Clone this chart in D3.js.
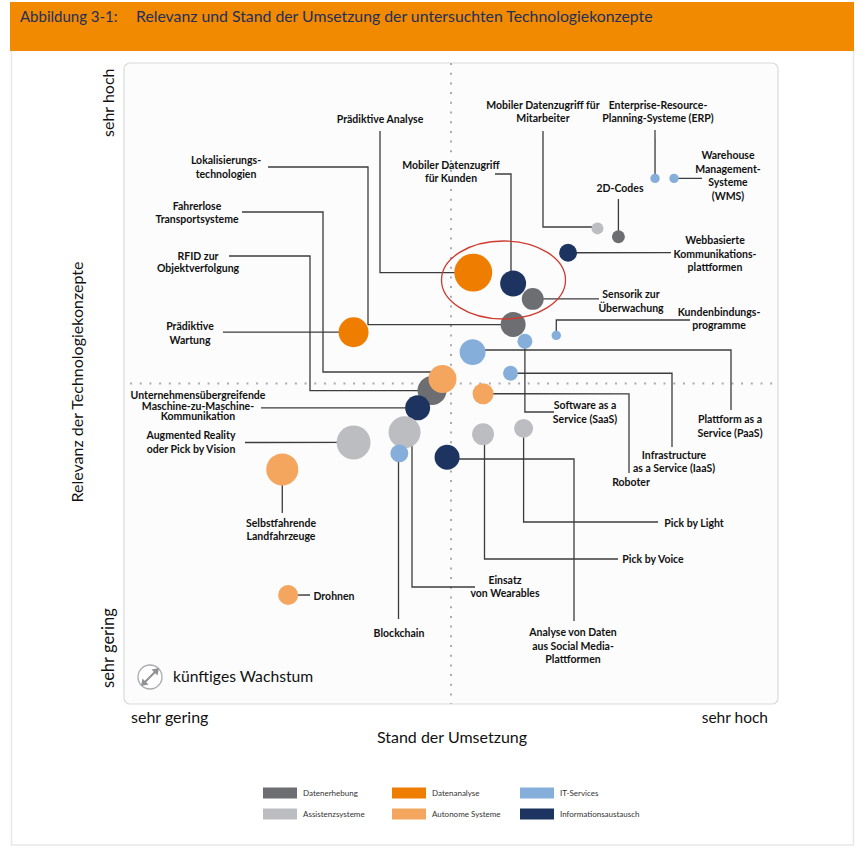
<!DOCTYPE html>
<html><head><meta charset="utf-8">
<script src="https://cdn.jsdelivr.net/npm/d3@7/dist/d3.min.js"></script>
<style>html,body{margin:0;padding:0;background:#fff}svg{display:block}text{font-family:"Lato",sans-serif}</style>
</head><body><svg id="c" width="866" height="855"></svg>
<script>
// Data (0-100 scales)
const names = ["Prädiktive Analyse","Mobiler Datenzugriff für Kunden","Sensorik zur Überwachung","Webbasierte Kommunikationsplattformen","2D-Codes","Mobiler Datenzugriff für Mitarbeiter","ERP","WMS","Lokalisierungstechnologien","Kundenbindungsprogramme","SaaS","PaaS","IaaS","Roboter","Pick by Light","Pick by Voice","Analyse von Daten aus Social Media","Prädiktive Wartung","RFID zur Objektverfolgung","Fahrerlose Transportsysteme","M2M","Wearables","Blockchain","Augmented Reality","Selbstfahrende Landfahrzeuge","Drohnen"];
const stand =    [53.4,59.5,62.5,67.9,75.6,72.4,81.2,84.1,59.5,66.1,61.3,53.3,59.1,54.9,61.1,54.9,49.4,35.1,47.1,48.7,44.9,42.9,42.1,35.1,24.2,25.1];
const relevanz = [67.3,65.6,63.2,70.4,72.9,74.2,82.0,82.0,59.2,57.5,56.6,54.9,51.6,48.4,43.0,42.1,38.5,58.0,48.9,50.7,46.2,42.4,39.1,40.8,36.6,17.0];
const wachstum = [90,42,30,20,10.5,9,5.5,5.5,39,5.5,14,42,14,27.5,22.5,30,39,56,52.5,49,39,64,20,72,64,25];
const gruppe =   [1,5,0,5,0,3,2,2,0,2,2,2,2,4,3,3,5,1,0,4,5,3,2,3,4,4];
const categories = ["Datenerhebung","Datenanalyse","IT-Services","Assistenzsysteme","Autonome Systeme","Informationsaustausch"];
const colours = ["#6d6e71","#ef7d00","#86aedb","#bbbdc0","#f4a65f","#1d3461"];

const svg = d3.select("#c");
const x = d3.scaleLinear().domain([0,100]).range([124,778]);
const y = d3.scaleLinear().domain([0,100]).range([704,63]);
const r = d3.scaleSqrt().domain([0,100]).range([0,20]);
const col = d3.scaleOrdinal().domain(d3.range(6)).range(colours);

// Frame and header
svg.append("path").attr("d","M11.5 51V845H853.5V51").attr("fill","none").attr("stroke","#e6e7e8").attr("stroke-width",1.5);
svg.append("rect").attr("x",10).attr("y",2).attr("width",844).attr("height",49).attr("fill","#f18a00");
svg.append("text").attr("x",20).attr("y",22).attr("font-size",15).attr("fill","#1f2f5c").text("Abbildung 3-1:");
svg.append("text").attr("x",136).attr("y",22).attr("font-size",15.8).attr("fill","#1f2f5c").text("Relevanz und Stand der Umsetzung der untersuchten Technologiekonzepte");

// Plot panel
svg.append("rect").attr("x",124).attr("y",63).attr("width",654).attr("height",641).attr("rx",6)
  .attr("fill","#fcfcfc").attr("stroke","#d9dadb").attr("stroke-width",1.2);
const dots = {fill:"none",stroke:"#a9abae","stroke-width":2,"stroke-dasharray":"2 7.7"};
const ln = (x1,y1,x2,y2)=>{const l=svg.append("line").attr("x1",x1).attr("y1",y1).attr("x2",x2).attr("y2",y2);Object.entries(dots).forEach(([k,v])=>l.attr(k,v));};
ln(x(50),y(100),x(50),y(0));
ln(130,y(50),776,y(50));

// Leader lines: waypoints are layout, the end is the bubble centre
const leaders = [
 [[380,131],[380,272.6]],
 [[495,174],[511,174],[511,283]],
 [[599,298.9]],
 [[671,252.7]],
 [[618.4,199]],
 [[543,131],[543,227],[597,227]],
 [[655,130]],
 [[702,178.4]],
 [[268,167],[368,167],[368,324.5]],
 [[690,320],[556.3,320]],
 [[554,412],[524.9,412]],
 [[731,410],[731,350],[472,350]],
 [[672,447],[672,373.2]],
 [[629,473],[629,393.8]],
 [[658,522],[523.6,522]],
 [[618,559],[484.5,559],[484.5,434]],
 [[574,621],[574,459],[447,459]],
 [[223,332.2]],
 [[229,256],[310,256],[310,390.6]],
 [[242,212],[323,212],[323,372],[442,372]],
 [[261,407.8]],
 [[475,587],[412,587],[412,432]],
 [[398.5,619],[398.5,453]],
 [[245,442.5]],
 [[282.3,513]],
 [[310,595]]
];
const line = d3.line();
svg.append("g").selectAll("path").data(leaders).join("path")
  .attr("d",(d,i)=>line([...d,[x(stand[i]),y(relevanz[i])]]))
  .attr("fill","none").attr("stroke","#3c3c3e").attr("stroke-width",1.3);

// Bubbles
svg.append("g").selectAll("circle").data(names).join("circle")
  .attr("cx",(d,i)=>x(stand[i])).attr("cy",(d,i)=>y(relevanz[i])).attr("r",(d,i)=>r(wachstum[i]))
  .attr("fill",(d,i)=>col(gruppe[i]));

// Highlight ellipse
svg.append("ellipse").attr("cx",503.5).attr("cy",280).attr("rx",62).attr("ry",39)
  .attr("fill","none").attr("stroke","#cf3b30").attr("stroke-width",1.3);

// Bubble labels [x, first baseline, line step, lines]
const labels = [
 [380,123,13,["Prädiktive Analyse"]],
 [226,164,14,["Lokalisierungs-","technologien"]],
 [197,210,13,["Fahrerlose","Transportsysteme"]],
 [198,260,11.5,["RFID zur","Objektverfolgung"]],
 [190,330,14,["Prädiktive","Wartung"]],
 [198,399,10.7,["Unternehmensübergreifende","Maschine-zu-Maschine-","Kommunikation"]],
 [191,439,14,["Augmented Reality","oder Pick by Vision"]],
 [281,527,13,["Selbstfahrende","Landfahrzeuge"]],
 [334,600,13,["Drohnen"]],
 [399,637,13,["Blockchain"]],
 [505,584,13,["Einsatz","von Wearables"]],
 [573,636,13.5,["Analyse von Daten","aus Social Media-","Plattformen"]],
 [451,169,13,["Mobiler Datenzugriff","für Kunden"]],
 [543,109,13,["Mobiler Datenzugriff für","Mitarbeiter"]],
 [658,109,13,["Enterprise-Resource-","Planning-Systeme (ERP)"]],
 [728,159,13.5,["Warehouse","Management-","Systeme","(WMS)"]],
 [620,192,13,["2D-Codes"]],
 [715,244,13.5,["Webbasierte","Kommunikations-","plattformen"]],
 [631,298,14,["Sensorik zur","Überwachung"]],
 [719,316,13,["Kundenbindungs-","programme"]],
 [585,409,14,["Software as a","Service (SaaS)"]],
 [730,423,14,["Plattform as a","Service (PaaS)"]],
 [674,459,13,["Infrastructure","as a Service (IaaS)"]],
 [631,486,13,["Roboter"]],
 [694,527,13,["Pick by Light"]],
 [653,563,13,["Pick by Voice"]]
];
const lg = svg.append("g").attr("font-size",10.5).attr("font-weight",700).attr("fill","#111").attr("text-anchor","middle");
labels.forEach(([lx,ly,st,ls])=>{
  const t = lg.append("text");
  ls.forEach((s,i)=>t.append("tspan").attr("x",lx).attr("y",ly+i*st).text(s));
});

// Axis wording
const ax = svg.append("g").attr("fill","#111");
ax.append("text").attr("transform","translate(114,137) rotate(-90)").attr("font-size",16).text("sehr hoch");
ax.append("text").attr("transform","translate(114,688) rotate(-90)").attr("font-size",16.5).text("sehr gering");
ax.append("text").attr("transform","translate(83,382) rotate(-90)").attr("text-anchor","middle").attr("font-size",16).text("Relevanz der Technologiekonzepte");
ax.append("text").attr("x",131).attr("y",723).attr("font-size",16).text("sehr gering");
ax.append("text").attr("x",768).attr("y",723).attr("text-anchor","end").attr("font-size",15.5).text("sehr hoch");
ax.append("text").attr("x",452).attr("y",743).attr("text-anchor","middle").attr("font-size",16).text("Stand der Umsetzung");

// Growth key
const key = svg.append("g");
key.append("circle").attr("cx",150).attr("cy",677).attr("r",12).attr("fill","#fff").attr("stroke","#a9abae").attr("stroke-width",1.3);
key.append("path").attr("d","M143.5 683.5L156.5 670.5").attr("stroke","#8f9194").attr("stroke-width",2);
key.append("path").attr("d","M141 686L142.5 678.5L148.5 684.5ZM159 668L157.5 675.500L151.500 669.500Z").attr("fill","#8f9194");
key.append("text").attr("x",173).attr("y",682).attr("font-size",15.7).attr("fill","#111").text("künftiges Wachstum");

// Legend
const lx = [263,392,520], ly=[793,814];
const leg = svg.append("g").selectAll("g").data(categories).join("g")
  .attr("transform",(d,i)=>`translate(${lx[[0,1,2,0,1,2][i]]},${ly[i<3?0:1]})`);
leg.append("rect").attr("x",0).attr("y",-5.5).attr("width",34).attr("height",11).attr("fill",(d,i)=>colours[i]);
leg.append("text").attr("x",40).attr("y",3).attr("font-size",8).attr("fill","#333").text(d=>d);
</script></body></html>
